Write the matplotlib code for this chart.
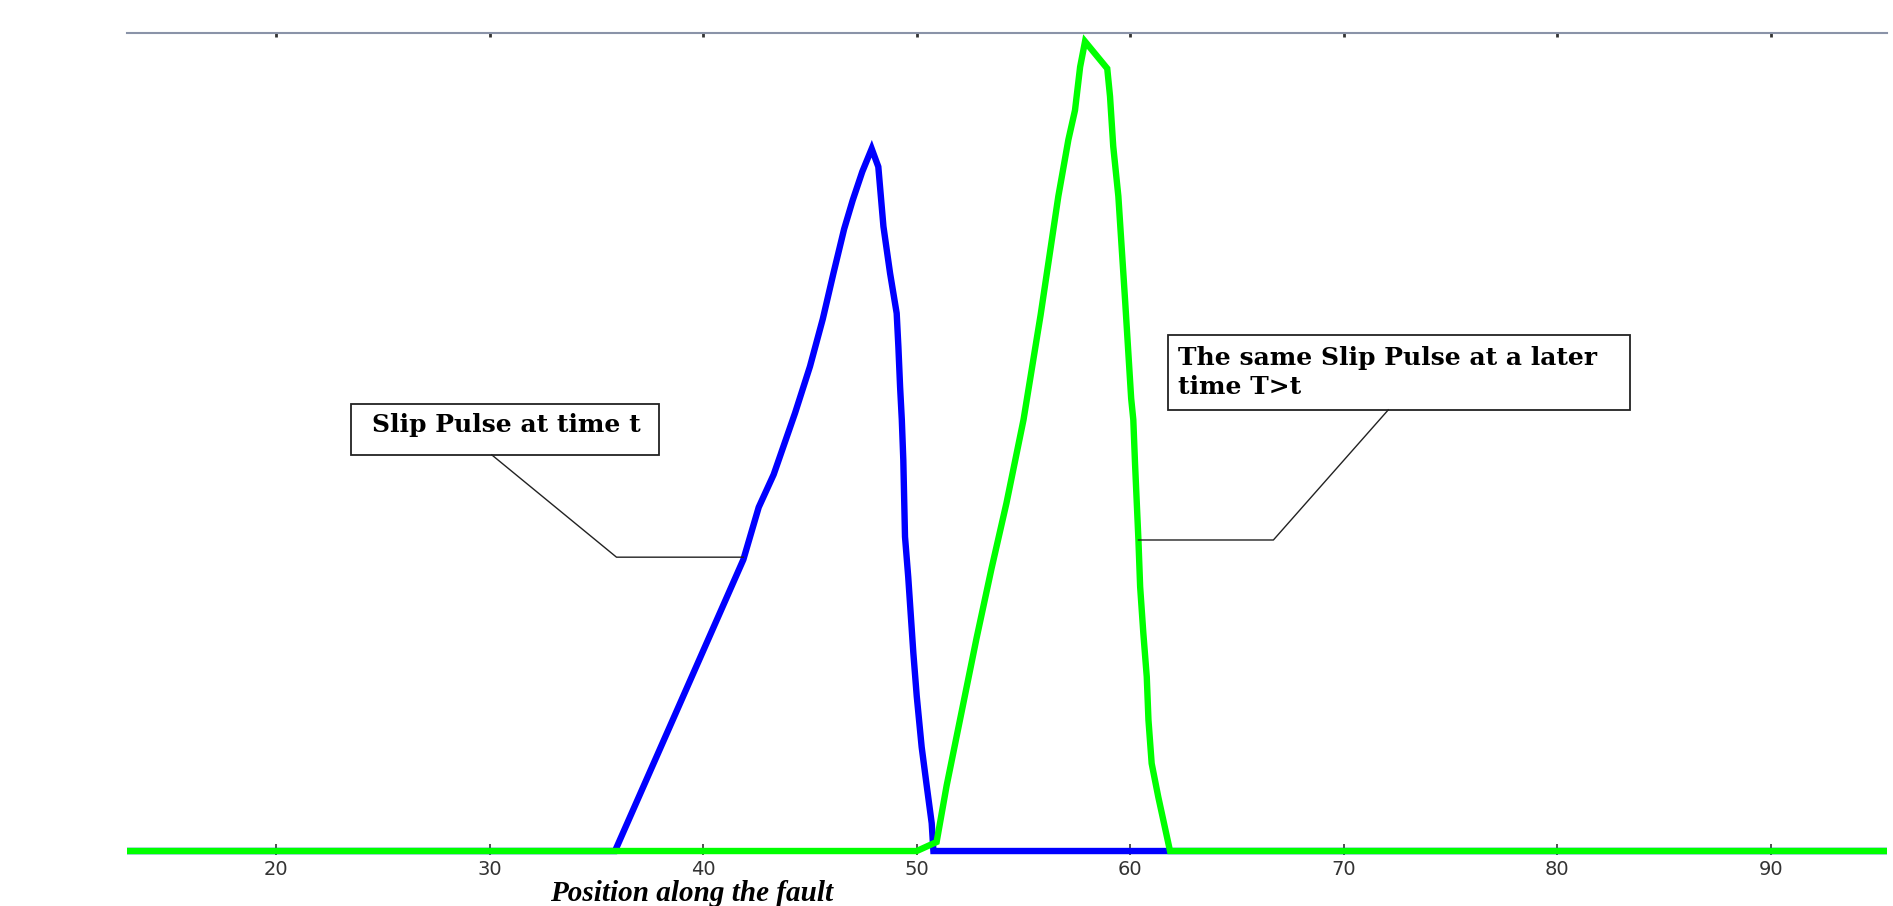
import matplotlib
matplotlib.use("Agg")
import matplotlib.pyplot as plt
from matplotlib.patches import Rectangle

# ---- data ----
pos_t = [13, 35.87, 41.88, 42.6, 43.3, 44.3, 45.0, 45.6, 46.1, 46.6, 47.0,
         47.45, 47.89, 48.2, 48.44, 48.75, 49.06, 49.14, 49.22, 49.3, 49.37,
         49.45, 49.6, 49.84, 50.0, 50.23, 50.47, 50.7, 50.78, 100]
slip_t = [0, 0, 0.356, 0.42, 0.46, 0.535, 0.592, 0.65, 0.706, 0.76, 0.795,
          0.83, 0.858, 0.836, 0.763, 0.706, 0.657, 0.616, 0.567, 0.527, 0.478,
          0.384, 0.335, 0.242, 0.189, 0.127, 0.079, 0.034, 0, 0]

pos_T = [13, 50.0, 50.93, 51.4, 52.1, 52.8, 53.5, 54.2, 55.0, 55.8, 56.63,
         57.1, 57.41, 57.65, 57.88, 58.92, 59.05, 59.2, 59.44, 59.76, 60.04,
         60.14, 60.22, 60.38, 60.46, 60.61, 60.77, 60.85, 61.0, 61.31, 61.86, 100]
slip_T = [0, 0, 0.011, 0.08, 0.17, 0.26, 0.345, 0.425, 0.527, 0.655, 0.80,
          0.869, 0.905, 0.958, 0.989, 0.956, 0.922, 0.861, 0.80, 0.671, 0.553,
          0.527, 0.474, 0.38, 0.323, 0.266, 0.213, 0.16, 0.107, 0.066, 0, 0]

xticks = [20, 30, 40, 50, 60, 70, 80, 90]
xticklabels = ["20", "30", "40", "50", "60", "70", "80", "90"]
xlabel = "Position along the fault"
label_t = "Slip Pulse at time t"
label_T = "The same Slip Pulse at a later\ntime T>t"

# ---- figure ----
fig = plt.figure(figsize=(18.93, 9.06), dpi=100)
fig.patch.set_facecolor("white")
ax = fig.add_axes([0.0671, 0.0568, 0.9297, 0.9073])
ax.set_xlim(13.02, 95.43)
ax.set_ylim(-0.0043, 1.0)

ax.plot(pos_t, slip_t, color="#0000ff", lw=4.6, solid_joinstyle="miter", zorder=2)
ax.plot(pos_T, slip_T, color="#00ff00", lw=4.6, solid_joinstyle="miter", zorder=2.1)

for s in ["left", "right", "top", "bottom"]:
    ax.spines[s].set_visible(False)
ax.set_yticks([])
ax.set_xticks(xticks)
ax.set_xticklabels(xticklabels)
ax.tick_params(axis="x", direction="in", length=8, width=1.2, color="#333333",
               labelsize=14, labelcolor="#333333", pad=4)

sec = ax.secondary_xaxis("top")
sec.set_xticks(xticks)
sec.set_xticklabels([])
sec.tick_params(direction="in", length=3, width=2, color="#333333")
sec.spines["top"].set_color("#8a93a8")
sec.spines["top"].set_linewidth(1.5)

# annotation boxes
ax.add_patch(Rectangle((23.5, 0.484), 14.45, 0.062, facecolor="white",
                       edgecolor="#222222", lw=1.3, zorder=3))
ax.text(24.48, 0.512, label_t, family="DejaVu Serif", weight="bold", size=18,
        ha="left", va="baseline", zorder=4)
ax.plot([30.1, 35.94, 41.88], [0.484, 0.359, 0.359], color="#222222", lw=1.0, zorder=3)

ax.add_patch(Rectangle((61.78, 0.539), 21.62, 0.091, facecolor="white",
                       edgecolor="#222222", lw=1.3, zorder=3))
ax.text(62.23, 0.558, label_T, family="DejaVu Serif", weight="bold", size=18,
        ha="left", va="baseline", linespacing=1.27, zorder=4)
ax.plot([72.08, 66.7, 60.38], [0.539, 0.38, 0.38], color="#222222", lw=1.0, zorder=3)

fig.text(691.8 / 1893, 0.006, xlabel, family="Liberation Serif", weight="bold",
         style="italic", size=21, ha="center", va="baseline")

fig.savefig("out.png", dpi=100, facecolor="white")
